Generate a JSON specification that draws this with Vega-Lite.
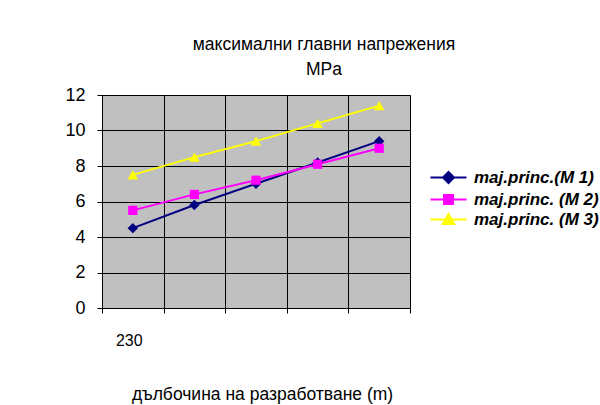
{
  "$schema": "https://vega.github.io/schema/vega-lite/v6.json",
  "autosize": "none",
  "width": 308,
  "height": 213,
  "padding": {"left": 102, "top": 95, "right": 190, "bottom": 97},
  "background": "white",
  "config": {
    "font": "Liberation Sans",
    "view": {"fill": "#C0C0C0", "stroke": "#808080", "strokeWidth": 1}
  },
  "title": {
    "text": ["максимални главни напрежения", "MPa"],
    "anchor": "middle",
    "dx": 68,
    "offset": 8,
    "font": "Liberation Sans",
    "fontSize": 17.5,
    "fontWeight": "normal",
    "color": "black",
    "lineHeight": 25
  },
  "data": {
    "values": [
      {"series": "maj.princ.(M 1)", "depth": 230, "value": 4.5},
      {"series": "maj.princ.(M 1)", "depth": 260, "value": 5.8},
      {"series": "maj.princ.(M 1)", "depth": 290, "value": 7.0},
      {"series": "maj.princ.(M 1)", "depth": 320, "value": 8.2},
      {"series": "maj.princ.(M 1)", "depth": 350, "value": 9.4},
      {"series": "maj.princ. (M 2)", "depth": 230, "value": 5.5},
      {"series": "maj.princ. (M 2)", "depth": 260, "value": 6.4},
      {"series": "maj.princ. (M 2)", "depth": 290, "value": 7.2},
      {"series": "maj.princ. (M 2)", "depth": 320, "value": 8.1},
      {"series": "maj.princ. (M 2)", "depth": 350, "value": 9.0},
      {"series": "maj.princ. (M 3)", "depth": 230, "value": 7.5},
      {"series": "maj.princ. (M 3)", "depth": 260, "value": 8.5},
      {"series": "maj.princ. (M 3)", "depth": 290, "value": 9.4},
      {"series": "maj.princ. (M 3)", "depth": 320, "value": 10.4},
      {"series": "maj.princ. (M 3)", "depth": 350, "value": 11.4}
    ]
  },
  "encoding": {
    "x": {
      "field": "depth",
      "type": "ordinal",
      "scale": {"type": "band", "paddingInner": 0, "paddingOuter": 0},
      "axis": {
        "title": "дълбочина на разработване (m)",
        "titleFont": "Liberation Sans",
        "titleFontSize": 17.5,
        "titleFontWeight": "normal",
        "titleColor": "black",
        "titlePadding": 37,
        "titleX": 160,
        "labelExpr": "datum.value == 230 ? datum.label : ''",
        "labelAngle": 0,
        "labelOffset": -4,
        "labelFont": "Liberation Sans",
        "labelFontSize": 16,
        "labelColor": "black",
        "labelPadding": 19,
        "tickBand": "extent",
        "grid": true,
        "gridColor": "black",
        "gridWidth": 1,
        "gridOpacity": 1,
        "domainColor": "black",
        "tickColor": "black",
        "tickSize": 5
      }
    },
    "y": {
      "field": "value",
      "type": "quantitative",
      "scale": {"domain": [0, 12], "nice": false, "zero": true},
      "axis": {
        "title": null,
        "values": [0, 2, 4, 6, 8, 10, 12],
        "labelFont": "Liberation Sans",
        "labelFontSize": 18,
        "labelColor": "black",
        "labelPadding": 12,
        "grid": true,
        "gridColor": "black",
        "gridWidth": 1,
        "gridOpacity": 1,
        "domainColor": "black",
        "tickColor": "black",
        "tickSize": 5
      }
    }
  },
  "layer": [
    {
      "mark": {"type": "line", "strokeWidth": 2},
      "encoding": {
        "color": {
          "field": "series",
          "type": "nominal",
          "scale": {
            "domain": ["maj.princ.(M 1)", "maj.princ. (M 2)", "maj.princ. (M 3)"],
            "range": ["#000080", "#FF00FF", "#FFFF00"]
          },
          "legend": {
            "orient": "none",
            "legendX": 338,
            "legendY": 74,
            "title": null,
            "padding": 0,
            "labelFont": "Liberation Sans",
            "labelFontSize": 17,
            "labelFontWeight": "bold",
            "labelFontStyle": "italic",
            "labelColor": "black",
            "labelOffset": 17,
            "symbolSize": 144,
            "symbolStrokeWidth": 2,
            "rowPadding": 2,
            "encode": {
              "symbols": {
                "update": {
                  "shape": {"signal": "datum.value === 'maj.princ.(M 1)' ? 'M-3,0L3,0M0,-0.92L0.92,0L0,0.92L-0.92,0Z' : datum.value === 'maj.princ. (M 2)' ? 'M-3,0L3,0M-0.75,-0.75L0.75,-0.75L0.75,0.75L-0.75,0.75Z' : 'M-3,0L3,0M0,-0.9L0.95,0.75L-0.95,0.75Z'"},
                  "size": {"value": 144},
                  "fill": {"signal": "scale('color', datum.value)"},
                  "stroke": {"signal": "scale('color', datum.value)"},
                  "strokeWidth": {"value": 2},
                  "opacity": {"value": 1}
                }
              }
            }
          }
        }
      }
    },
    {
      "transform": [{"filter": "datum.series === 'maj.princ.(M 1)'"}],
      "mark": {"type": "point", "shape": "diamond", "filled": true, "opacity": 1, "color": "#000080", "size": 110}
    },
    {
      "transform": [{"filter": "datum.series === 'maj.princ. (M 2)'"}],
      "mark": {"type": "point", "shape": "square", "filled": true, "opacity": 1, "color": "#FF00FF", "size": 85}
    },
    {
      "transform": [{"filter": "datum.series === 'maj.princ. (M 3)'"}],
      "mark": {"type": "point", "shape": "triangle-up", "filled": true, "opacity": 1, "color": "#FFFF00", "size": 110}
    }
  ]
}
